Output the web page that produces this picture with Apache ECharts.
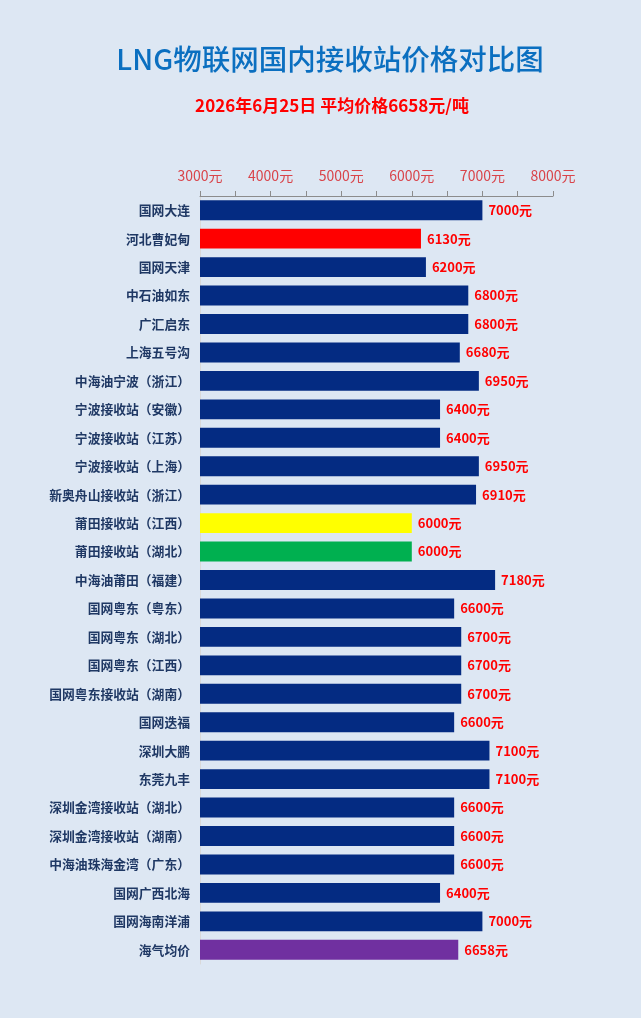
<!DOCTYPE html>
<html>
<head>
<meta charset="utf-8">
<script src="https://cdn.jsdelivr.net/npm/echarts@6/dist/echarts.min.js"></script>
<style>
html,body{margin:0;padding:0;background:#dde7f3;}
#main{width:641px;height:1018px;}
</style>
</head>
<body>
<div id="main"></div>
<script>
// 接收站名称
var stations = ['国网大连', '河北曹妃甸', '国网天津', '中石油如东', '广汇启东', '上海五号沟',
    '中海油宁波（浙江）', '宁波接收站（安徽）', '宁波接收站（江苏）', '宁波接收站（上海）',
    '新奥舟山接收站（浙江）', '莆田接收站（江西）', '莆田接收站（湖北）', '中海油莆田（福建）',
    '国网粤东（粤东）', '国网粤东（湖北）', '国网粤东（江西）', '国网粤东接收站（湖南）',
    '国网迭福', '深圳大鹏', '东莞九丰', '深圳金湾接收站（湖北）', '深圳金湾接收站（湖南）',
    '中海油珠海金湾（广东）', '国网广西北海', '国网海南洋浦', '海气均价'];
// 价格 元/吨
var prices = [7000, 6130, 6200, 6800, 6800, 6680, 6950, 6400, 6400, 6950, 6910, 6000, 6000, 7180,
    6600, 6700, 6700, 6700, 6600, 7100, 7100, 6600, 6600, 6600, 6400, 7000, 6658];
// 特殊颜色
var specialColors = {'河北曹妃甸': '#ff0000', '莆田接收站（江西）': '#ffff00', '莆田接收站（湖北）': '#00b050', '海气均价': '#7030a0'};

var myChart = echarts.init(document.getElementById('main'));

var barData = prices.map(function (v, i) {
    return {value: v, itemStyle: {color: specialColors[stations[i]] || '#042b82'}};
});

var option = {
    backgroundColor: '#dde7f3',
    title: [{
        text: 'LNG物联网国内接收站价格对比图',
        left: 325, top: 40, textAlign: 'center',
        textStyle: {color: '#0b6fc0', fontSize: 28.5, fontWeight: 500, fontFamily: 'Noto Sans CJK SC'}
    }, {
        text: '2026年6月25日 平均价格6658元/吨',
        left: 327, top: 92, textAlign: 'center',
        textStyle: {color: '#ff0000', fontSize: 17, fontWeight: 'bold', fontFamily: 'Noto Sans CJK SC'}
    }],
    grid: {left: 200, right: 88, top: 196, bottom: 54},
    xAxis: {
        type: 'value', position: 'top', min: 3000, max: 8000, interval: 500,
        axisLine: {show: true, lineStyle: {color: '#8c8c8c'}},
        axisTick: {show: true, length: 5, lineStyle: {color: '#8c8c8c'}},
        splitLine: {show: false},
        axisLabel: {
            color: '#d9444a', fontSize: 14, margin: 13, fontFamily: 'Noto Sans CJK SC',
            formatter: function (v) { return v % 1000 === 0 ? v + '元' : ''; }
        }
    },
    yAxis: {
        type: 'category', inverse: true, data: stations,
        axisLine: {show: true, lineStyle: {color: '#d9d9d9'}},
        axisTick: {show: false},
        axisLabel: {color: '#1f3864', fontSize: 12.8, fontWeight: 'bold', margin: 10, fontFamily: 'Noto Sans CJK SC'}
    },
    series: [{
        type: 'bar', data: barData, barCategoryGap: '30%',
        label: {
            show: true, position: 'right', distance: 6, formatter: '{c}元',
            color: '#ff0000', fontSize: 13, fontWeight: 'bold', fontFamily: 'Noto Sans CJK SC'
        }
    }]
};

myChart.setOption(option);
</script>
</body>
</html>
